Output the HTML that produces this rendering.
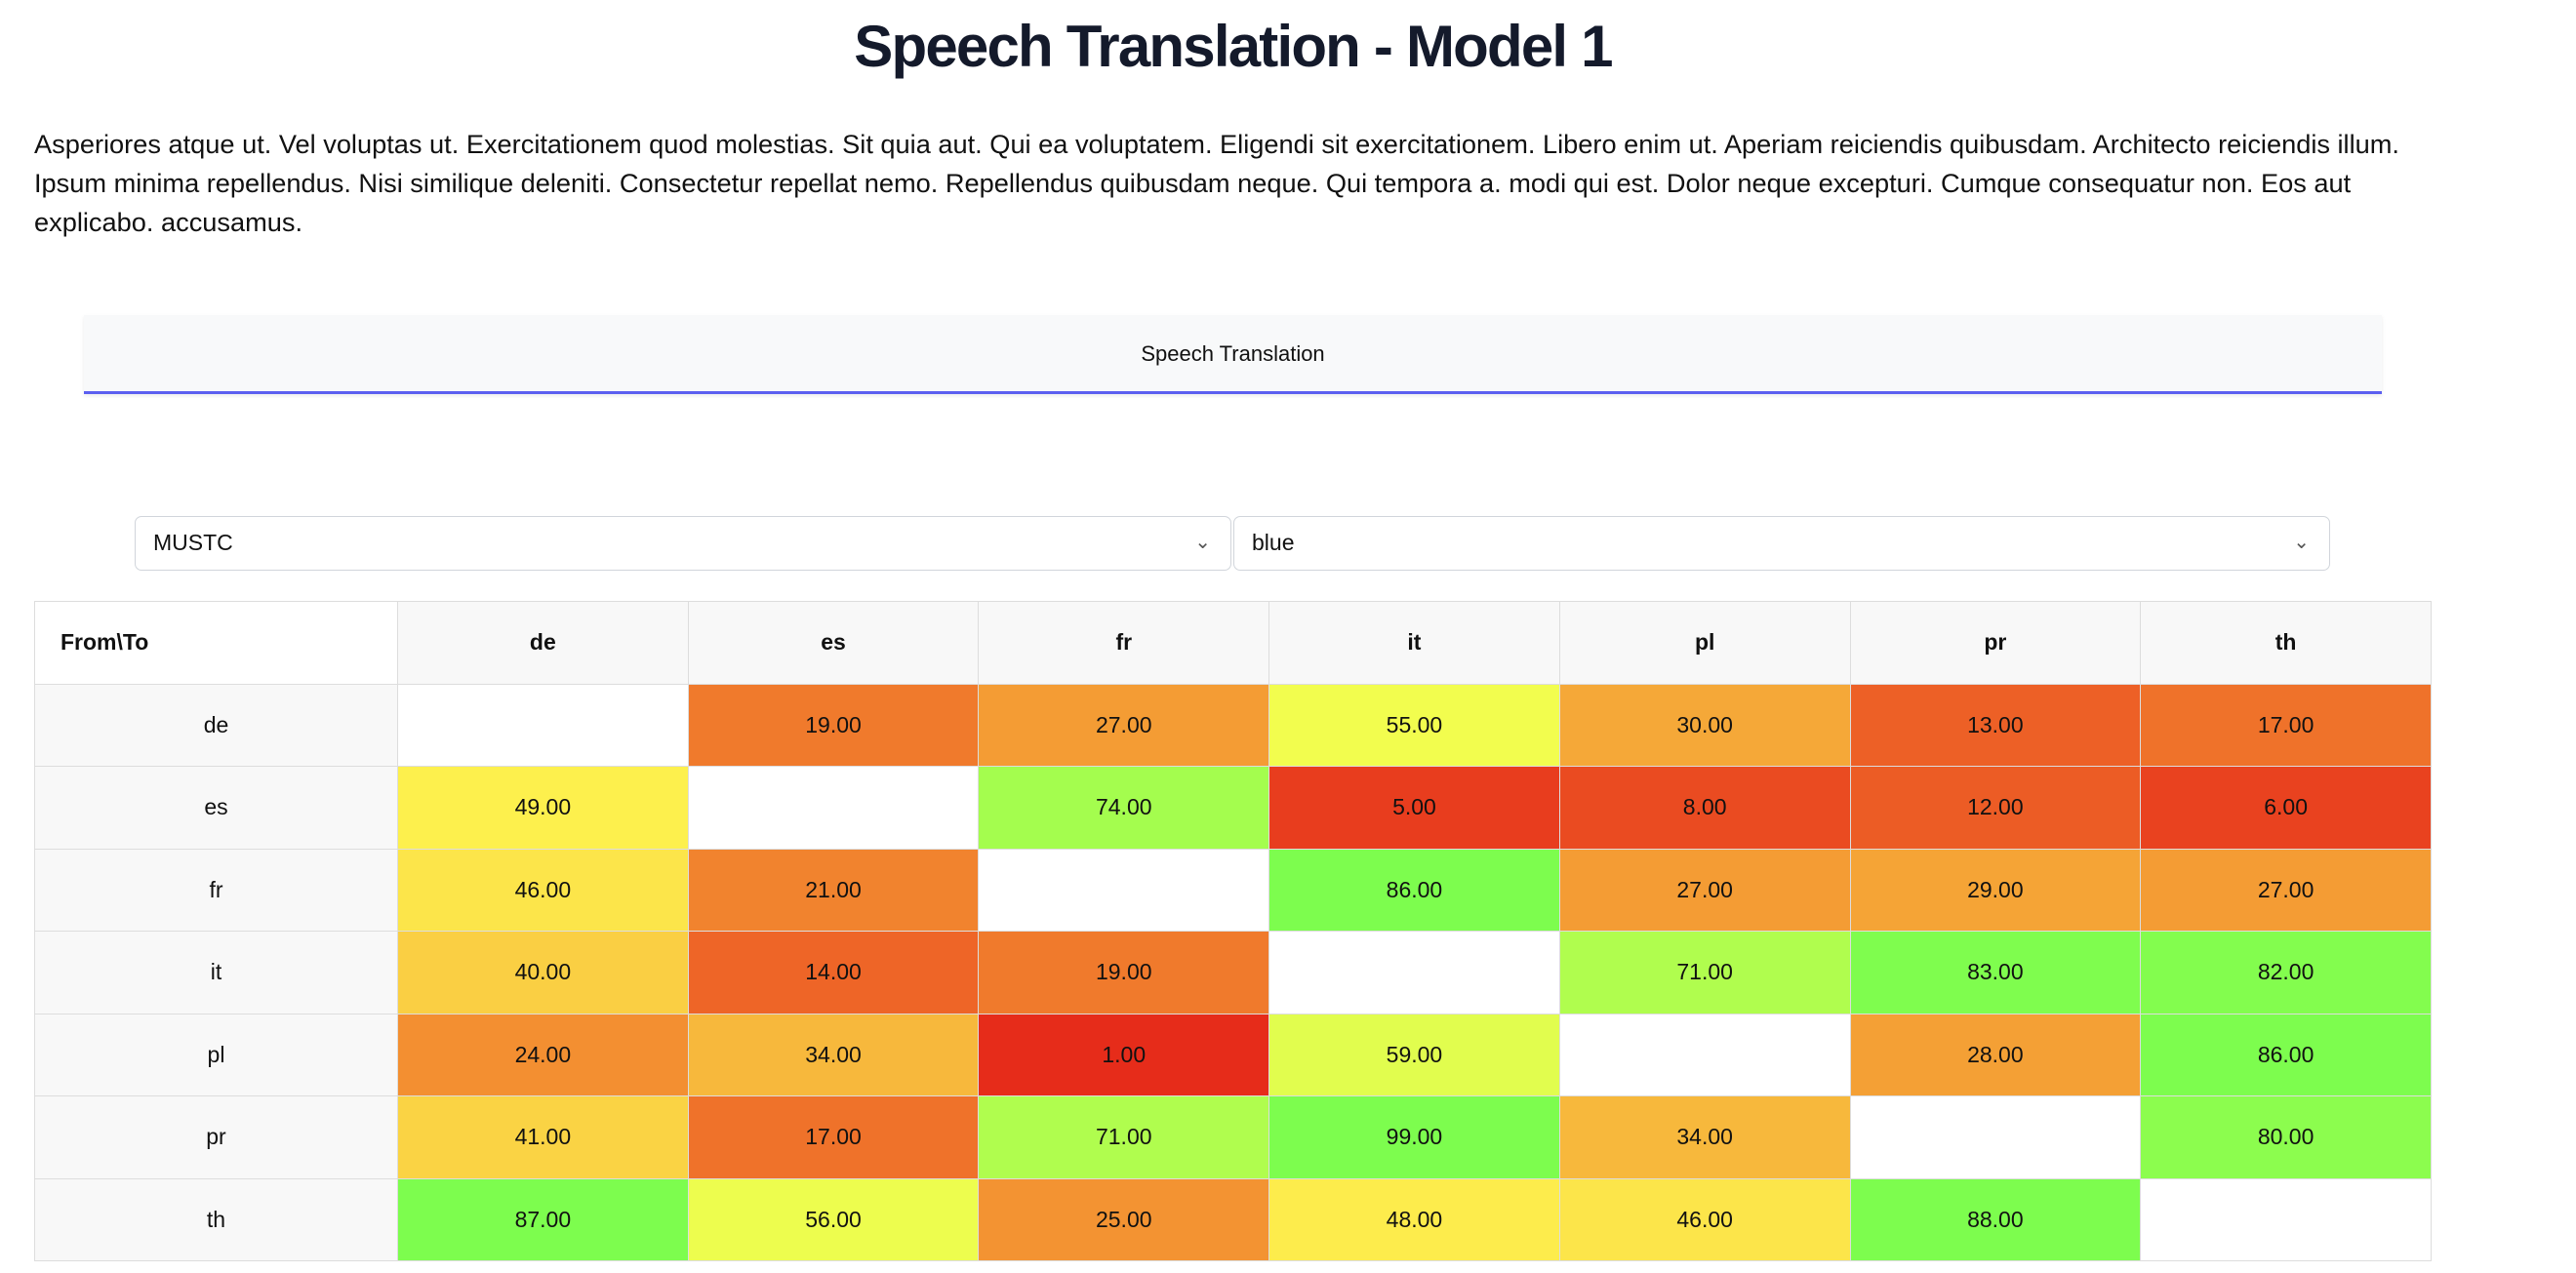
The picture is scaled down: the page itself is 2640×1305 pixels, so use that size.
<!DOCTYPE html>
<html><head><meta charset="utf-8"><style>
body{margin:0;width:2640px;height:1305px;background:#fff;font-family:"Liberation Sans",sans-serif;color:#111;position:relative;overflow:hidden}
h1{position:absolute;left:35px;width:2457px;top:8px;margin:0;text-align:center;font-size:60px;font-weight:bold;color:#141a2b;letter-spacing:-1.8px;line-height:80px}
.p{position:absolute;left:35px;top:128px;font-size:27.2px;line-height:40px;white-space:nowrap;color:#111}
.tab{position:absolute;left:86px;top:323px;width:2355px;height:78px;background:#f8f9fa;border-bottom:3px solid #5b5ff0;box-shadow:0 2px 4px rgba(0,0,0,.08);text-align:center;line-height:80px;font-size:22px}
.sel{position:absolute;top:529px;border:1.5px solid #d1d5db;border-radius:7px;font-size:23px;line-height:53px;padding-left:18px;box-sizing:border-box;height:56px}
.sel span{position:absolute;right:20px;top:0;color:#555;font-size:20px}
table{position:absolute;left:35px;top:616px;border-collapse:collapse;table-layout:fixed;font-size:23px;width:2457px}
td,th{border:1.5px solid #ddd;height:83.5px;text-align:center;padding:0}
th{background:#f8f8f8;font-weight:bold}
th.f{background:#fff;text-align:left;padding-left:26px}
td.r{background:#f8f8f8}
</style></head><body>
<h1>Speech Translation - Model 1</h1>
<div class="p">Asperiores atque ut. Vel voluptas ut. Exercitationem quod molestias. Sit quia aut. Qui ea voluptatem. Eligendi sit exercitationem. Libero enim ut. Aperiam reiciendis quibusdam. Architecto reiciendis illum.<br>Ipsum minima repellendus. Nisi similique deleniti. Consectetur repellat nemo. Repellendus quibusdam neque. Qui tempora a. modi qui est. Dolor neque excepturi. Cumque consequatur non. Eos aut<br>explicabo. accusamus.</div>
<div class="tab">Speech Translation</div>
<div class="sel" style="left:138px;width:1124px">MUSTC<span>&#8964;</span></div>
<div class="sel" style="left:1264px;width:1124px">blue<span>&#8964;</span></div>
<table id="t">
<colgroup><col style="width:372px"><col><col><col><col><col><col><col></colgroup>
<tr><th class="f">From\To</th><th>de</th><th>es</th><th>fr</th><th>it</th><th>pl</th><th>pr</th><th>th</th></tr>
<tr><td class="r">de</td><td></td><td>19.00</td><td>27.00</td><td>55.00</td><td>30.00</td><td>13.00</td><td>17.00</td></tr>
<tr><td class="r">es</td><td>49.00</td><td></td><td>74.00</td><td>5.00</td><td>8.00</td><td>12.00</td><td>6.00</td></tr>
<tr><td class="r">fr</td><td>46.00</td><td>21.00</td><td></td><td>86.00</td><td>27.00</td><td>29.00</td><td>27.00</td></tr>
<tr><td class="r">it</td><td>40.00</td><td>14.00</td><td>19.00</td><td></td><td>71.00</td><td>83.00</td><td>82.00</td></tr>
<tr><td class="r">pl</td><td>24.00</td><td>34.00</td><td>1.00</td><td>59.00</td><td></td><td>28.00</td><td>86.00</td></tr>
<tr><td class="r">pr</td><td>41.00</td><td>17.00</td><td>71.00</td><td>99.00</td><td>34.00</td><td></td><td>80.00</td></tr>
<tr><td class="r">th</td><td>87.00</td><td>56.00</td><td>25.00</td><td>48.00</td><td>46.00</td><td>88.00</td><td></td></tr>
</table>
<script>
document.querySelectorAll('#t td:not(.r)').forEach(function(c){
 var t=c.textContent.trim(); if(!t)return;
 var v=parseFloat(t), m=Math.min(v,50);
 var h=v<=50?4+v*1.05:Math.min(57+(v-50)*1.4,104);
 var s=80+0.36*m, l=50+0.3*m;
 c.style.background='hsl('+h+','+s+'%,'+l+'%)';
});
</script>
</body></html>
